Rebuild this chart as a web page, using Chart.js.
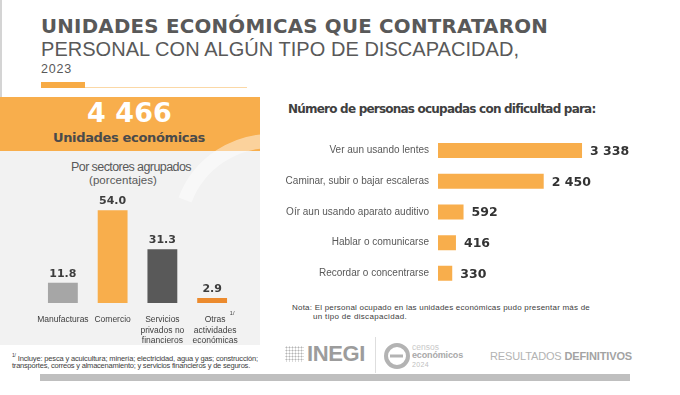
<!DOCTYPE html>
<html><head><meta charset="utf-8">
<script src="https://cdn.jsdelivr.net/npm/chart.js@4.4.1/dist/chart.umd.min.js"></script>
<style>
html,body{margin:0;padding:0;background:#fff;width:680px;height:395px;overflow:hidden;}
#root{position:relative;width:680px;height:395px;}
.t{position:absolute;white-space:nowrap;line-height:1;font-family:"Liberation Sans",Arial,sans-serif;color:#595959;}
.dj{font-family:"DejaVu Sans",sans-serif;font-weight:bold;}
.b{font-weight:bold;}
.box{position:absolute;}
canvas{position:absolute;}
</style>
</head><body>
<div id="root">
  <div class="box" style="left:0;top:0;width:2px;height:97px;background:#d4d4d4"></div>
  <div class="box" style="left:41px;top:82px;width:44px;height:6px;background:#f7ab45"></div>
  <div class="box" style="left:85px;top:87px;width:162px;height:1px;background:#fbd8a6"></div>
  <div class="box" style="left:0;top:97px;width:260px;height:54px;background:#f8ae4c"></div>
  <div class="box" style="left:0;top:151px;width:260px;height:194px;background:#f2f2f2"></div>
  <div class="box" style="left:40px;top:374px;width:590px;height:7px;background:#bfbfbf"></div>
  <div class="box" style="left:375px;top:337px;width:1px;height:36px;background:#dedede"></div>

  <span class="t dj" data-x="41" data-b="33.8" data-s="19.8" data-w="507">UNIDADES ECONÓMICAS QUE CONTRATARON</span>
  <span class="t" data-x="41" data-b="55.5" data-s="20" data-w="478">PERSONAL CON ALGÚN TIPO DE DISCAPACIDAD,</span>
  <span class="t" data-x="41" data-b="74" data-s="12.5" data-w="31">2023</span>
  <span class="t dj" style="color:#fff" data-x="87" data-b="122" data-s="27" data-w="85">4 466</span>
  <span class="t dj" style="color:#4a4a4a" data-x="53" data-b="142" data-s="13" data-w="152">Unidades económicas</span>
  <span class="t" data-x="71" data-b="172" data-s="12.5" data-w="120">Por sectores agrupados</span>
  <span class="t" data-x="89" data-b="184.5" data-s="11.5" data-w="68">(porcentajes)</span>
  <span class="t dj" style="color:#404040" data-x="288" data-b="113" data-s="12" data-w="307">Número de personas ocupadas con dificultad para:</span>
  <span class="t" style="color:#404040" data-x="292" data-b="310.5" data-s="8" data-w="298">Nota: El personal ocupado en las unidades económicas pudo presentar más de</span>
  <span class="t" style="color:#404040" data-x="313" data-b="320" data-s="8" data-w="94">un tipo de discapacidad.</span>
  <span class="t" style="color:#404040" data-x="12" data-b="359" data-s="7.5" data-w="246"><sup style="font-size:5px">1/</sup> Incluye: pesca y acuicultura; minería; electricidad, agua y gas; construcción;</span>
  <span class="t" style="color:#404040" data-x="12" data-b="368.5" data-s="7.5" data-w="238">transportes, correos y almacenamiento; y servicios financieros y de seguros.</span>

  <div class="box" style="left:285px;top:346px;width:19px;height:16px;background-image:radial-gradient(circle,#b5b5b5 0.9px,transparent 1.1px);background-size:3px 3px"></div>
  <span class="t b" style="color:#9c9c9c;font-family:'Liberation Sans Narrow','Liberation Sans',sans-serif" data-x="307" data-b="362" data-s="22" data-w="58">INEGI</span>
  <svg class="box" style="left:383px;top:342px" width="28" height="28" viewBox="0 0 28 28">
    <circle cx="14" cy="14" r="11" fill="none" stroke="#b3b3b3" stroke-width="4"/>
    <path d="M7 14 H20" stroke="#b3b3b3" stroke-width="3"/>
  </svg>
  <span class="t" style="color:#c9c9c9" data-x="412" data-b="350" data-s="8.5" data-w="27">censos</span>
  <span class="t b" style="color:#a9a9a9" data-x="412" data-b="358.5" data-s="9" data-w="51">económicos</span>
  <span class="t" style="color:#c0c0c0" data-x="412" data-b="367" data-s="7" data-w="17">2024</span>
  <span class="t" style="color:#b3b3b3" data-x="490" data-b="360" data-s="11" data-w="142">RESULTADOS <b style="color:#a3a3a3">DEFINITIVOS</b></span>

  <canvas id="sectors" style="left:0;top:190px"></canvas>
  <canvas id="difficulty" style="left:280px;top:130px"></canvas>

  <svg class="box" style="left:0;top:0;pointer-events:none" width="680" height="395">
    <path d="M 185 200 A 92 92 0 0 1 275 141" fill="none" stroke="#ffffff" stroke-opacity="0.45" stroke-width="14"/>
  </svg>
</div>
<script>
// ---- data ----
const sectorLabels = [["Manufacturas"], ["Comercio"], ["Servicios", "privados no", "financieros"], ["Otras", "actividades", "económicas"]];
const sectorValues = [11.8, 54.0, 31.3, 2.9];
const sectorColors = ["#a6a6a6", "#f8ae4c", "#595959", "#ec8b2e"];
const difficultyLabels = ["Ver aun usando lentes", "Caminar, subir o bajar escaleras", "Oír aun usando aparato auditivo", "Hablar o comunicarse", "Recordar o concentrarse"];
const personValues = [3338, 2450, 592, 416, 330];

// ---- text fitting ----
document.querySelectorAll('.t').forEach(el => {
  const s = parseFloat(el.dataset.s), b = parseFloat(el.dataset.b), x = parseFloat(el.dataset.x), w = parseFloat(el.dataset.w);
  el.style.fontSize = s + 'px';
  el.style.left = x + 'px';
  el.style.top = (b - 0.846 * s) + 'px';
  const cur = el.getBoundingClientRect().width;
  const n = el.textContent.length;
  if (n > 1) el.style.letterSpacing = ((w - cur) / n) + 'px';
});

const fmt = v => String(v).replace(/\B(?=(\d{3})+(?!\d))/g, ' ');

function setup(id, w, h) {
  const c = document.getElementById(id);
  c.width = w; c.height = h; c.style.width = w + 'px'; c.style.height = h + 'px';
  return c;
}

const sectorText = {
  id: 'sectorText',
  afterDatasetsDraw(chart) {
    const ctx = chart.ctx, meta = chart.getDatasetMeta(0), bottom = chart.chartArea.bottom;
    ctx.save();
    ctx.textAlign = 'center'; ctx.textBaseline = 'alphabetic';
    meta.data.forEach((bar, i) => {
      ctx.font = 'bold 11px "DejaVu Sans"'; ctx.fillStyle = '#3d3d3d';
      ctx.fillText(sectorValues[i].toFixed(1), bar.x, bar.y - 6);
      ctx.font = '8.5px "Liberation Sans"'; ctx.fillStyle = '#404040';
      sectorLabels[i].forEach((ln, j) => ctx.fillText(ln, bar.x + (i === 3 ? 3 : 0), bottom + 19 + j * 10.5));
      if (i === 3) { ctx.font = '5.5px "Liberation Sans"'; ctx.fillText('1/', bar.x + 20, bottom + 12); }
    });
    ctx.restore();
  }
};

new Chart(setup('sectors', 260, 160), {
  type: 'bar',
  data: { labels: sectorLabels, datasets: [{ data: sectorValues, backgroundColor: sectorColors, borderWidth: 0 }] },
  options: {
    responsive: false, animation: false, devicePixelRatio: 1,
    layout: { padding: { left: 38, right: 23, top: 10, bottom: 47 } },
    plugins: { legend: { display: false }, tooltip: { enabled: false } },
    datasets: { bar: { barPercentage: 0.6, categoryPercentage: 1 } },
    scales: { x: { display: false }, y: { display: false, min: 0, max: 60 } }
  },
  plugins: [sectorText]
});

const diffText = {
  id: 'diffText',
  afterDatasetsDraw(chart) {
    const ctx = chart.ctx, meta = chart.getDatasetMeta(0), left = chart.chartArea.left;
    ctx.save();
    ctx.textBaseline = 'middle';
    meta.data.forEach((bar, i) => {
      ctx.font = '10px "Liberation Sans"'; ctx.fillStyle = '#595959'; ctx.textAlign = 'right';
      ctx.fillText(difficultyLabels[i], left - 9, bar.y);
      ctx.font = 'bold 12.5px "DejaVu Sans"'; ctx.fillStyle = '#333333'; ctx.textAlign = 'left';
      ctx.fillText(fmt(personValues[i]), bar.x + 8, bar.y + 1);
    });
    ctx.restore();
  }
};

new Chart(setup('difficulty', 400, 170), {
  type: 'bar',
  data: { labels: difficultyLabels, datasets: [{ data: personValues, backgroundColor: '#f8ae4c', borderWidth: 0 }] },
  options: {
    indexAxis: 'y', responsive: false, animation: false, devicePixelRatio: 1,
    layout: { padding: { left: 158, right: 69.4, top: 5.2, bottom: 11.3 } },
    plugins: { legend: { display: false }, tooltip: { enabled: false } },
    datasets: { bar: { barPercentage: 0.49, categoryPercentage: 1 } },
    scales: { x: { display: false, min: 0, max: 4000 }, y: { display: false } }
  },
  plugins: [diffText]
});
</script>
</body></html>
